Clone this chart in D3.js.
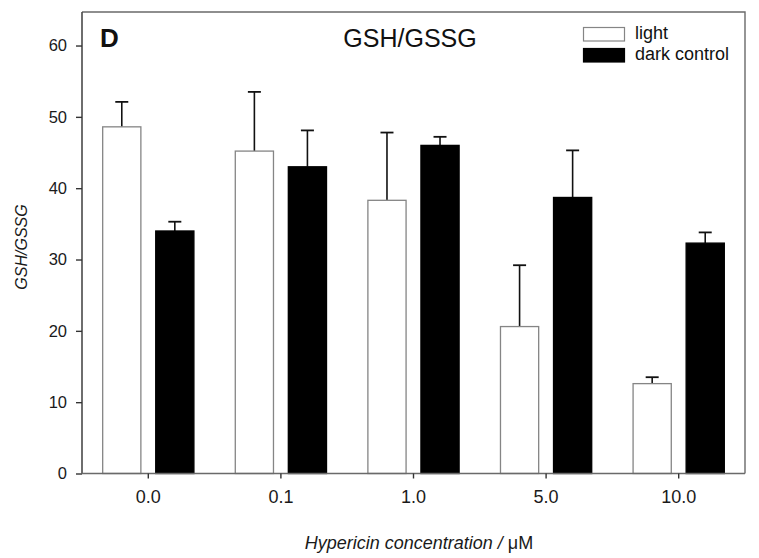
<!DOCTYPE html>
<html>
<head>
<meta charset="utf-8">
<script src="https://cdn.jsdelivr.net/npm/d3@7"></script>
<style>
  html, body { margin: 0; padding: 0; background: #fff; }
  svg { display: block; font-family: "Liberation Sans", Arial, sans-serif; }
</style>
</head>
<body>
<svg id="chart" width="759" height="558"></svg>
<script>
const categories = ["0.0", "0.1", "1.0", "5.0", "10.0"];
const seriesNames = ["light", "dark control"];
const lightValues = [48.6, 45.2, 38.3, 20.6, 12.6];
const lightErrors = [3.5, 8.3, 9.5, 8.6, 0.9];
const darkValues = [34.0, 43.0, 46.0, 38.7, 32.3];
const darkErrors = [1.3, 5.1, 1.2, 6.6, 1.5];
const yTicks = [0, 10, 20, 30, 40, 50, 60];

const svg = d3.select("#chart");
const M = { left: 82, right: 745, top: 12, bottom: 473.5 };

const x0 = d3.scaleBand().domain(categories).range([M.left, M.right]).padding(0);
const x1 = d3.scaleBand().domain(seriesNames).range([0, x0.bandwidth()])
  .paddingInner(0.28).paddingOuter(0.39);
const y = d3.scaleLinear().domain([0, 64.7]).range([M.bottom, M.top]);

const rows = categories.map((c, i) => ({
  cat: c,
  bars: [
    { key: "light", v: lightValues[i], e: lightErrors[i] },
    { key: "dark control", v: darkValues[i], e: darkErrors[i] }
  ]
}));
const fillOf = { "light": "#ffffff", "dark control": "#000000" };
const strokeOf = { "light": "#858585", "dark control": "#000000" };

// Bars
const g = svg.append("g");
const groups = g.selectAll("g.cat").data(rows).join("g")
  .attr("class", "cat")
  .attr("transform", d => `translate(${x0(d.cat)},0)`);

groups.selectAll("g.err").data(d => d.bars).join("g").attr("class", "err").each(function(d) {
  const cx = x1(d.key) + x1.bandwidth() / 2;
  const sel = d3.select(this);
  sel.append("line").attr("x1", cx).attr("x2", cx)
    .attr("y1", y(d.v)).attr("y2", y(d.v + d.e))
    .attr("stroke", "#111").attr("stroke-width", 1.6);
  sel.append("line").attr("x1", cx - 6.5).attr("x2", cx + 6.5)
    .attr("y1", y(d.v + d.e)).attr("y2", y(d.v + d.e))
    .attr("stroke", "#111").attr("stroke-width", 1.8);
});

groups.selectAll("rect").data(d => d.bars).join("rect")
  .attr("x", d => x1(d.key))
  .attr("width", x1.bandwidth())
  .attr("y", d => y(d.v))
  .attr("height", d => y(0) - y(d.v))
  .attr("fill", d => fillOf[d.key])
  .attr("stroke", d => strokeOf[d.key])
  .attr("stroke-width", 1.3);

// Frame (top & right)
svg.append("path")
  .attr("d", `M${M.left},${M.top}H${M.right}V${M.bottom}`)
  .attr("fill", "none").attr("stroke", "#6a6a6a").attr("stroke-width", 1.4);

// Y axis
const yAxis = d3.axisLeft(y).tickValues(yTicks).tickSize(6).tickPadding(9).tickFormat(d3.format("d"));
const ya = svg.append("g").attr("transform", `translate(${M.left},0)`).call(yAxis);
ya.select(".domain").attr("d", `M0,${M.bottom}V${M.top}`).attr("stroke", "#4a4a4a").attr("stroke-width", 1.6);
ya.selectAll(".tick line").attr("stroke", "#333").attr("stroke-width", 1.4);
ya.selectAll(".tick text").attr("font-size", 16.5).attr("fill", "#1a1a1a")
  .attr("font-family", "Liberation Sans, Arial, sans-serif");

// X axis
const xAxis = d3.axisBottom(x0).tickSize(5).tickPadding(12);
const xa = svg.append("g").attr("transform", `translate(0,${M.bottom})`).call(xAxis);
xa.select(".domain").attr("d", `M${M.left},0H${M.right}`).attr("stroke", "#6a6a6a").attr("stroke-width", 1.5);
xa.selectAll(".tick line").attr("stroke", "#333").attr("stroke-width", 1.4);
xa.selectAll(".tick text").attr("font-size", 18).attr("fill", "#1a1a1a")
  .attr("font-family", "Liberation Sans, Arial, sans-serif");

// Axis titles
const xt = svg.append("text")
  .attr("x", 419).attr("y", 549)
  .attr("text-anchor", "middle")
  .attr("font-size", 18).attr("fill", "#1a1a1a");
xt.append("tspan").attr("font-style", "italic").text("Hypericin concentration / ");
xt.append("tspan").text("\u03bcM");

svg.append("text")
  .attr("transform", "translate(27,247) rotate(-90)")
  .attr("text-anchor", "middle")
  .attr("font-size", 16).attr("font-style", "italic").attr("fill", "#1a1a1a")
  .text("GSH/GSSG");

// Panel letter & title
svg.append("text").attr("x", 100).attr("y", 47)
  .attr("font-size", 26).attr("font-weight", "bold").attr("fill", "#111")
  .text("D");
svg.append("text").attr("x", 410).attr("y", 47)
  .attr("text-anchor", "middle").attr("font-size", 25).attr("fill", "#111")
  .text("GSH/GSSG");

// Legend
const legend = svg.append("g");
seriesNames.forEach((s, i) => {
  legend.append("rect")
    .attr("x", 583.5).attr("y", 27.5 + i * 21).attr("width", 41).attr("height", 13.5)
    .attr("fill", fillOf[s]).attr("stroke", strokeOf[s]).attr("stroke-width", 1.2);
  legend.append("text")
    .attr("x", 635).attr("y", 38.5 + i * 21.5)
    .attr("font-size", 18).attr("fill", "#111")
    .text(s);
});
</script>
</body>
</html>
